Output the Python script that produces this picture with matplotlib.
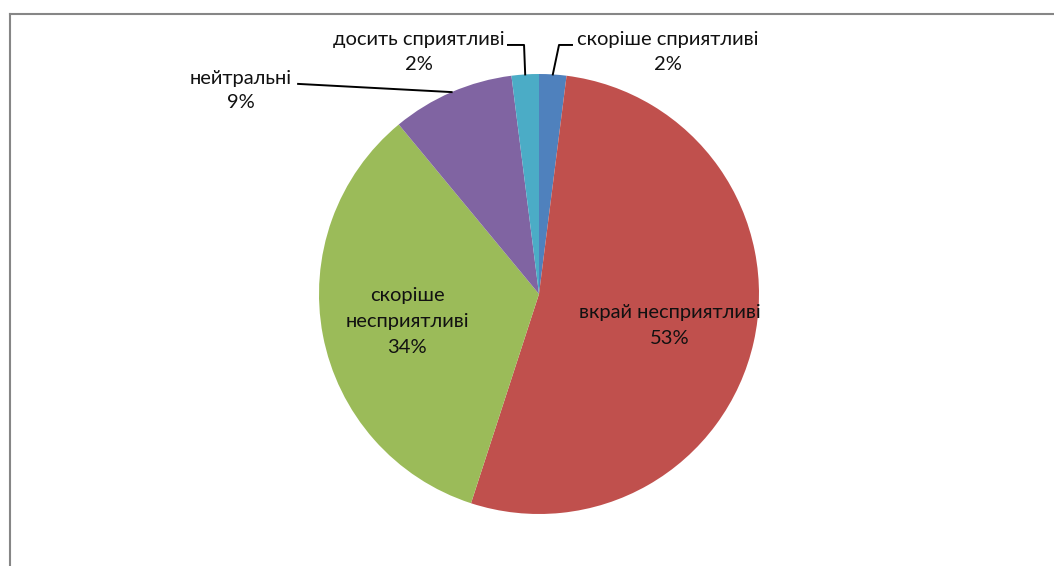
import numpy as np
import matplotlib.pyplot as plt
from matplotlib.lines import Line2D

plt.rcParams['font.family'] = ['Lato', 'DejaVu Sans']

labels = ['скоріше сприятливі', 'вкрай несприятливі', 'скоріше\nнесприятливі',
          'нейтральні', 'досить сприятливі']
values = [2, 53, 34, 9, 2]
colors = ['#4F81BD', '#C0504D', '#9BBB59', '#8064A2', '#4BACC6']

W, H = 1054, 566
cx, cy, R = 539, 294, 220  # pie centre and radius in pixels

fig = plt.figure(figsize=(W / 100, H / 100), dpi=100)
ax = fig.add_axes([0, 0, 1, 1])
ax.axis('off')

wedges, _ = ax.pie(values, colors=colors, startangle=90, counterclock=False,
                   radius=1, wedgeprops=dict(linewidth=0))
ax.set_aspect('auto')
ax.set_xlim(-cx / R, (W - cx) / R)
ax.set_ylim(-(H - cy) / R, cy / R)


def mid(w):
    a = np.deg2rad((w.theta1 + w.theta2) / 2)
    return np.cos(a), np.sin(a)


fs = 14.5
# inside labels
for i in (1, 2):
    x, y = mid(wedges[i])
    ax.text(0.61 * x, 0.61 * y - 0.01, f'{labels[i]}\n{values[i]}%', ha='center', va='center',
            fontsize=fs, linespacing=1.65, color='#111111')

# outside labels with leader lines
outside = {
    0: ((0.586, 1.10), [(0.091, 1.132), (0.15, 1.132)]),
    4: ((-0.545, 1.10), [(-0.068, 1.132), (-0.141, 1.132)]),
    3: ((-1.355, 0.925), [(-1.095, 0.955)]),
}
for i, (pos, pts) in outside.items():
    x, y = mid(wedges[i])
    xs = [x] + [p[0] for p in pts]
    ys = [y] + [p[1] for p in pts]
    ax.plot(xs, ys, color='black', lw=1.4)
    ax.text(pos[0], pos[1], f'{labels[i]}\n{values[i]}%', ha='center', va='center',
            fontsize=fs, linespacing=1.55, color='#111111')

# chart frame
fig.add_artist(Line2D([10 / W, 10 / W], [0, 1 - 13.5 / H], color='#868686', lw=1.5))
fig.add_artist(Line2D([10 / W, 1], [1 - 13.5 / H, 1 - 13.5 / H], color='#868686', lw=1.5))

fig.savefig('out.png', dpi=100)
